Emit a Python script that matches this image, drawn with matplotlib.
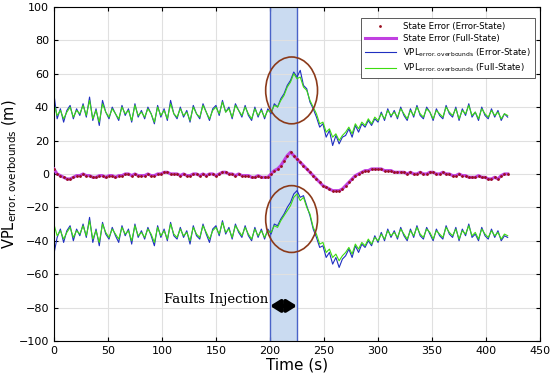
import matplotlib.pyplot as plt
import numpy as np
from matplotlib.patches import Ellipse

# time grid, 3 s steps (0..420)
time = list(range(0, 421, 3))

# state error (m), same for both filters to the eye
state_err = [3, 0, -1, -2, -3, -3, -2, -1, -1, 0,
             -1, -1, -2, -2, -1, -1, -2, -1, -1, -2,
             -1, -1, 0, 0, -1, 0, -1, -1, -1, 0,
             -1, -1, 0, 0, 1, 1, 0, 0, 0, -1,
             0, -1, -1, 0, 0, -1, 0, -1, 0, 0,
             -1, 0, 1, 1, 0, 0, -1, 0, -1, -1,
             -1, -2, -2, -1, -2, -2, -2, 0, 2, 3,
             5, 8, 11, 13, 11, 9, 7, 5, 3, 1,
             -1, -3, -5, -7, -8, -9, -10, -10, -10, -9,
             -7, -5, -3, -1, 0, 1, 2, 2, 3, 3,
             3, 3, 2, 2, 2, 1, 1, 1, 1, 0,
             1, 0, 0, 1, 0, 0, 1, 1, 0, 0,
             1, 0, 0, -1, -1, 0, -1, -1, -2, -2,
             -2, -1, -2, -2, -3, -3, -2, -3, -1, 0,
             0]

vpl_up_full = [42, 35, 38, 33, 37, 40, 34, 38, 36, 41,
               35, 44, 33, 38, 31, 42, 37, 34, 39, 36,
               33, 40, 36, 38, 32, 41, 35, 37, 34, 39,
               36, 31, 40, 35, 38, 33, 42, 36, 34, 39,
               35, 37, 32, 40, 36, 34, 41, 37, 33, 38,
               40, 36, 43, 37, 39, 34, 41, 38, 35, 40,
               36, 33, 39, 35, 38, 34, 38, 37, 41, 40,
               44, 47, 52, 55, 60, 57, 58, 52, 50, 44,
               40, 36, 30, 31, 25, 27, 22, 24, 20, 23,
               25, 28, 24, 30, 27, 31, 29, 33, 30, 34,
               32, 36, 33, 38, 35, 37, 34, 39, 36, 33,
               38, 35, 40, 36, 34, 39, 37, 33, 38, 36,
               34, 40, 37, 35, 39, 33, 38, 36, 41, 35,
               37, 33, 39, 36, 34, 38, 35, 37, 33, 36,
               35]

vpl_up_err = [48, 33, 39, 31, 38, 41, 33, 39, 35, 42,
              34, 46, 32, 39, 29, 44, 37, 33, 40, 36,
              32, 41, 35, 39, 31, 42, 34, 38, 33, 40,
              36, 30, 41, 34, 39, 32, 44, 36, 33, 40,
              34, 38, 31, 41, 36, 33, 42, 37, 32, 39,
              41, 35, 44, 37, 40, 33, 42, 38, 34, 41,
              35, 32, 40, 34, 39, 33, 39, 36, 42, 40,
              45, 48, 53, 56, 61, 58, 62, 53, 51, 43,
              39, 34, 28, 30, 22, 26, 17, 23, 18, 22,
              23, 27, 22, 29, 25, 30, 28, 32, 29, 33,
              31, 37, 32, 39, 34, 38, 33, 40, 35, 32,
              39, 34, 41, 35, 33, 40, 37, 32, 39, 35,
              33, 41, 36, 34, 40, 32, 39, 35, 42, 34,
              37, 32, 40, 35, 33, 39, 34, 38, 32, 36,
              34]

vpl_lo_full = [-30, -37, -34, -39, -35, -32, -38, -34, -36, -31,
               -37, -28, -39, -34, -41, -30, -35, -38, -33, -36,
               -39, -32, -36, -34, -40, -31, -37, -35, -38, -33,
               -36, -41, -32, -37, -34, -39, -30, -36, -38, -33,
               -37, -35, -40, -32, -36, -38, -31, -35, -39, -34,
               -32, -36, -29, -35, -33, -38, -31, -34, -37, -32,
               -36, -39, -33, -37, -34, -38, -34, -35, -31, -32,
               -28, -25, -22, -19, -14, -12, -16, -14, -20, -24,
               -32, -36, -42, -41, -47, -45, -50, -48, -52, -49,
               -47, -44, -48, -42, -45, -41, -43, -39, -42, -38,
               -40, -36, -39, -34, -37, -35, -38, -33, -36, -39,
               -34, -37, -32, -36, -38, -33, -35, -39, -34, -36,
               -38, -32, -35, -37, -33, -39, -34, -36, -31, -37,
               -35, -39, -33, -36, -38, -34, -37, -35, -39, -36,
               -37]

vpl_lo_err = [-48, -38, -33, -41, -34, -31, -40, -33, -37, -30,
              -38, -26, -41, -33, -43, -29, -36, -39, -32, -37,
              -41, -31, -37, -33, -42, -30, -38, -34, -39, -32,
              -37, -43, -31, -38, -33, -40, -29, -37, -39, -32,
              -38, -34, -42, -31, -37, -39, -30, -36, -41, -33,
              -31, -37, -28, -36, -32, -39, -30, -35, -38, -31,
              -37, -40, -32, -38, -33, -39, -33, -36, -30, -31,
              -27, -24, -20, -17, -12, -10, -14, -13, -19, -25,
              -33, -38, -44, -43, -50, -47, -54, -50, -56, -51,
              -49, -45, -50, -43, -47, -42, -44, -40, -43, -37,
              -41, -35, -40, -33, -38, -34, -39, -32, -37, -40,
              -33, -38, -31, -37, -39, -32, -36, -40, -33, -37,
              -39, -31, -36, -38, -32, -40, -33, -37, -30, -38,
              -36, -40, -32, -37, -39, -33, -38, -34, -40, -37,
              -38]

fault_window = (200, 225)

fig, ax = plt.subplots(figsize=(5.5, 3.81), dpi=100)
fig.subplots_adjust(left=0.098, right=0.982, top=0.982, bottom=0.105)

ax.axvspan(fault_window[0], fault_window[1], facecolor='#cadbf1', edgecolor='none', zorder=0)
for xv in fault_window:
    ax.axvline(xv, color='#4a63c8', lw=1.0, zorder=1)

ax.plot(time, state_err, color='#c040e0', lw=2.2, label='State Error (Full-State)', zorder=3)
ax.plot(time, state_err, '.', color='#9b1020', ms=2, label='State Error (Error-State)', zorder=4)
ax.plot(time, vpl_up_err, color='#1f2fc0', lw=0.8,
        label='VPL$_{\\mathregular{error.overbounds}}$ (Error-State)', zorder=2)
ax.plot(time, vpl_lo_err, color='#1f2fc0', lw=0.8, zorder=2)
ax.plot(time, vpl_up_full, color='#3ddc10', lw=0.8,
        label='VPL$_{\\mathregular{error.overbounds}}$ (Full-State)', zorder=2.5)
ax.plot(time, vpl_lo_full, color='#3ddc10', lw=0.8, zorder=2.5)

for yc in (50, -27):
    ax.add_patch(Ellipse((220, yc), 48, 40, fill=False, edgecolor='#8b3a1a', lw=1.2, zorder=5))

ax.annotate('', xy=(fault_window[0], -79), xytext=(fault_window[1], -79),
            arrowprops=dict(arrowstyle='<|-|>,head_length=0.4,head_width=0.25',
                            color='black', lw=3, mutation_scale=14,
                            shrinkA=0, shrinkB=0))
ax.text(102, -75, 'Faults Injection', family='DejaVu Serif', fontsize=9.5, va='center')

ax.set_xlim(0, 450)
ax.set_ylim(-100, 100)
ax.set_xticks(np.arange(0, 451, 50))
ax.set_yticks(np.arange(-100, 101, 20))
ax.tick_params(direction='in', labelsize=8, length=3, top=True, right=True)
ax.grid(True, color='#e0e0e0', lw=0.8)
ax.set_axisbelow(True)
ax.set_xlabel('Time (s)', fontsize=11, labelpad=1)
ax.set_ylabel('VPL$_{\\mathregular{error.overbounds}}$ (m)', fontsize=10.5, labelpad=0)

h, l = ax.get_legend_handles_labels()
order = [1, 0, 2, 3]
leg = ax.legend([h[i] for i in order], [l[i] for i in order], loc='upper right',
                bbox_to_anchor=(0.998, 0.98),
                fontsize=6.2, fancybox=False, framealpha=1, edgecolor='#404040',
                borderpad=0.5, handlelength=3.6, labelspacing=0.35)
leg.get_frame().set_linewidth(0.6)

fig.savefig('out.png', dpi=100)
